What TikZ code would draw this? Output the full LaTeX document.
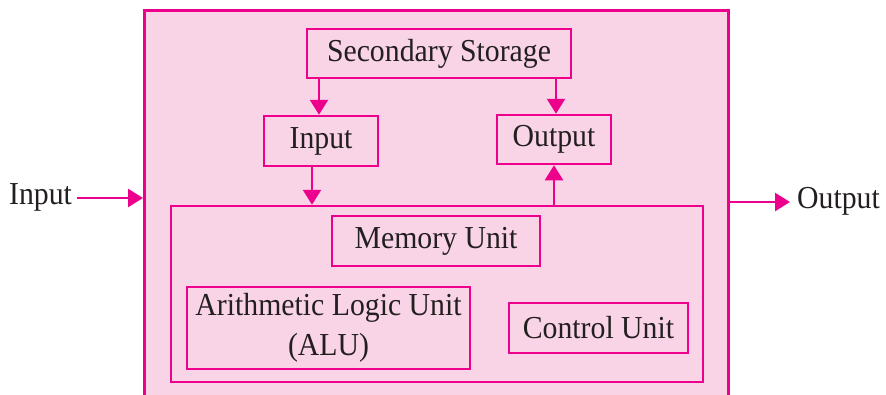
\documentclass[tikz,border=0pt]{standalone}
\usepackage{fontspec}
\setmainfont{Liberation Serif}[FakeStretch=0.93]
\usetikzlibrary{arrows.meta}
\definecolor{mag}{HTML}{EC008C}
\definecolor{pinkfill}{HTML}{F9D3E6}
\definecolor{txt}{HTML}{231F20}
\tikzset{
  box/.style={draw=mag, line width=2.5pt, fill=pinkfill, inner sep=0pt, text=txt, font=\fontsize{32}{40}\selectfont, align=center},
  arr/.style={draw=mag, line width=2.5pt, -{Triangle[length=15pt,width=18pt]}},
  lbl/.style={text=txt, font=\fontsize{32}{40}\selectfont, inner sep=0pt}
}
\begin{document}
\begin{tikzpicture}[x=1pt,y=-1pt]
\useasboundingbox (0,0) rectangle (886,394);
% outer box (bottom cut off)
\node[box, minimum width=584pt, minimum height=410pt, anchor=north west] (outer) at (143,9) {};
\node[box, minimum width=264pt, minimum height=49pt] (ss) at (439,53.5) {Secondary Storage};
\node[box, minimum width=114pt, minimum height=50pt] (inp) at (321,141) {Input};
\node[box, minimum width=114pt, minimum height=49pt] (out) at (554,139.5) {Output};
\node[box, minimum width=532pt, minimum height=176pt] (proc) at (437,294) {};
\node[box, minimum width=208pt, minimum height=50pt] (mem) at (436,241) {Memory Unit};
\node[box, minimum width=283pt, minimum height=82pt] (alu) at (328.5,328) {Arithmetic Logic Unit\\(ALU)};
\node[box, minimum width=179pt, minimum height=50pt] (cu) at (598.5,328) {Control Unit};
\node[lbl, anchor=west] (inlbl) at (9,197) {Input};
\node[lbl, anchor=west] (outlbl) at (797,201) {Output};
\draw[arr] (ss.south -| 319,0) -- (inp.north -| 319,0);
\draw[arr] (ss.south -| 556,0) -- (out.north -| 556,0);
\draw[arr] (inp.south -| 312,0) -- (proc.north -| 312,0);
\draw[arr] (proc.north -| out.south) -- (out.south);
\draw[arr] ([xshift=5pt]inlbl.east |- 0,198) -- (outer.west |- 0,198);
\draw[arr] (outer.east |- 0,202) -- ([xshift=-7pt]outlbl.west |- 0,202);
\end{tikzpicture}
\end{document}
